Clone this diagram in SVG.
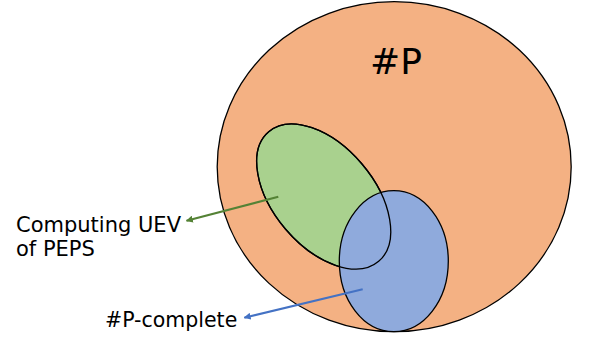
<svg xmlns="http://www.w3.org/2000/svg" width="589" height="339" viewBox="0 0 589 339">
<defs>
<style>
.set{stroke:#000;stroke-width:1.3}
.lbl{font-family:"DejaVu Sans","Verdana",sans-serif;fill:#000}
.conn{fill:none;stroke-width:2.2}
</style>
<marker id="ahG" viewBox="0 0 10 10" refX="9" refY="5" markerWidth="3.2" markerHeight="3.2" orient="auto"><path d="M0,0L10,5L0,10z" fill="#548235"/></marker>
<marker id="ahB" viewBox="0 0 10 10" refX="9" refY="5" markerWidth="3.2" markerHeight="3.2" orient="auto"><path d="M0,0L10,5L0,10z" fill="#4472C4"/></marker>
</defs>
<rect width="589" height="339" fill="#fff"/>
<g id="sharpP">
<ellipse class="set" cx="394.2" cy="166.7" rx="177" ry="165" fill="#F4B183"/>
<text class="lbl" x="396" y="74.3" font-size="36" text-anchor="middle">#P</text>
</g>
<g id="uev">
<ellipse class="set" cx="323.7" cy="196.5" rx="85" ry="50.2" transform="rotate(49.7 323.7 196.5)" fill="#A9D18E"/>
</g>
<g id="complete">
<ellipse class="set" cx="393.8" cy="261.2" rx="54.5" ry="70.5" fill="#8FAADC"/>
</g>
<g id="uevOutline">
<ellipse cx="323.7" cy="196.5" rx="85" ry="50.2" transform="rotate(49.7 323.7 196.5)" fill="none" stroke="#000" stroke-width="1.3"/>
</g>
<g id="labels">
<text class="lbl" x="16" y="232" font-size="21">Computing UEV</text>
<text class="lbl" x="16" y="255.5" font-size="21">of PEPS</text>
<text class="lbl" x="105" y="327" font-size="20.5">#P-complete</text>
</g>
<g id="connectors">
<line class="conn" x1="278.3" y1="196.7" x2="186.5" y2="220.7" stroke="#548235" marker-end="url(#ahG)"/>
<line class="conn" x1="362.7" y1="289.3" x2="244.3" y2="317.7" stroke="#4472C4" marker-end="url(#ahB)"/>
</g>
</svg>
